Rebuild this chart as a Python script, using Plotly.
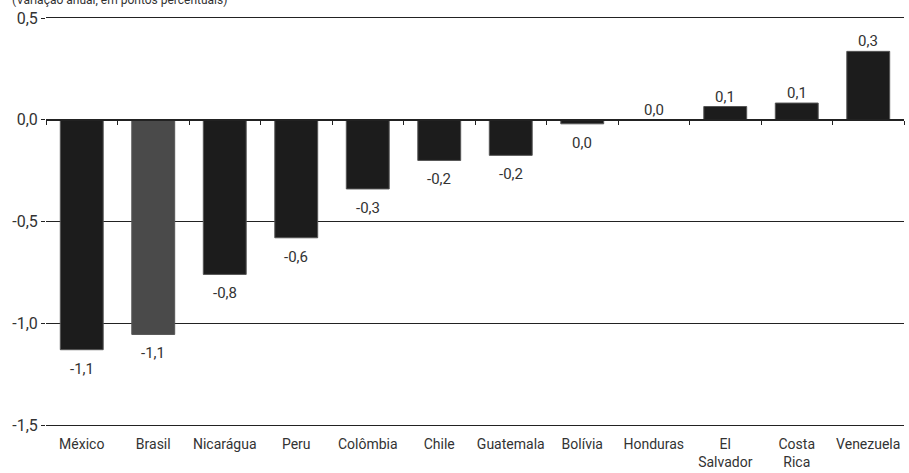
import plotly.graph_objects as go

categories = ["México", "Brasil", "Nicarágua", "Peru", "Colômbia", "Chile", "Guatemala",
              "Bolívia", "Honduras", "El<br>Salvador", "Costa<br>Rica", "Venezuela"]
values = [-1.13, -1.055, -0.76, -0.58, -0.34, -0.20, -0.175, -0.02, 0.0, 0.065, 0.082, 0.336]
labels = ["-1,1", "-1,1", "-0,8", "-0,6", "-0,3", "-0,2", "-0,2", "0,0", "0,0", "0,1", "0,1", "0,3"]
bar_colors = ["#1c1c1c", "#4a4a4a"] + ["#1c1c1c"] * 10
ytick_vals = [0.5, 0.0, -0.5, -1.0, -1.5]
ytick_text = ["0,5", "0,0", "-0,5", "-1,0", "-1,5"]
subtitle = "(Variação anual, em pontos percentuais)"

FONT = "Roboto, 'Open Sans', sans-serif"
x_idx = list(range(len(categories)))
n = len(categories)

fig = go.Figure()
fig.add_trace(go.Bar(
    x=x_idx, y=values, width=0.6,
    marker=dict(color=bar_colors, line=dict(color="#555555", width=1)),
    hoverinfo="skip",
))
# invisible trace to host the zero-line axis with boundary ticks
fig.add_trace(go.Scatter(x=[-0.5, n - 0.5], y=[0, 0], xaxis="x2",
                         mode="lines", line=dict(width=0), hoverinfo="skip", showlegend=False))

annotations = [dict(text=subtitle, xref="paper", yref="paper", x=-0.042, y=1.022,
                    xanchor="left", yanchor="bottom", showarrow=False,
                    font=dict(family=FONT, size=12, color="#333333"))]
for xi, v, lab in zip(x_idx, values, labels):
    if v < 0:
        annotations.append(dict(x=xi, y=v, text=lab, xref="x", yref="y", showarrow=False,
                                xanchor="center", yanchor="top", yshift=-8,
                                font=dict(family=FONT, size=15, color="#333333")))
    else:
        annotations.append(dict(x=xi, y=v, text=lab, xref="x", yref="y", showarrow=False,
                                xanchor="center", yanchor="bottom", yshift=-1,
                                font=dict(family=FONT, size=15, color="#333333")))

fig.update_layout(
    width=909, height=473,
    margin=dict(l=46, r=5, t=18, b=48, autoexpand=False),
    plot_bgcolor="white", paper_bgcolor="white",
    showlegend=False,
    font=dict(family=FONT, size=14, color="#333333"),
    xaxis=dict(range=[-0.5, n - 0.5], tickmode="array", tickvals=x_idx,
               ticktext=categories, showgrid=False, showline=True, mirror=True,
               linecolor="#222222", linewidth=1.2, ticks="", automargin=False,
               ticklabelstandoff=6,
               zeroline=False, tickfont=dict(size=14, color="#333333")),
    xaxis2=dict(overlaying="x", anchor="free", position=0.75, matches="x",
                range=[-0.5, n - 0.5], tickmode="array",
                tickvals=[i - 0.5 for i in range(n + 1)], automargin=False,
                showticklabels=False, ticks="outside", ticklen=4, tickcolor="#222222",
                showline=True, linecolor="#222222", linewidth=1.5, showgrid=False, zeroline=False),
    yaxis=dict(range=[-1.5, 0.5], tickmode="array", tickvals=ytick_vals, ticktext=ytick_text,
               showgrid=True, gridcolor="#222222", gridwidth=1.2, zeroline=False,
               ticks="outside", ticklen=4, tickcolor="#222222", showline=False,
               automargin=False,
               tickfont=dict(size=16, color="#333333")),
    bargap=0.4,
    annotations=annotations,
)

fig.write_html("out.html", config={"displayModeBar": False},
               post_script="document.body.style.margin='0';")
